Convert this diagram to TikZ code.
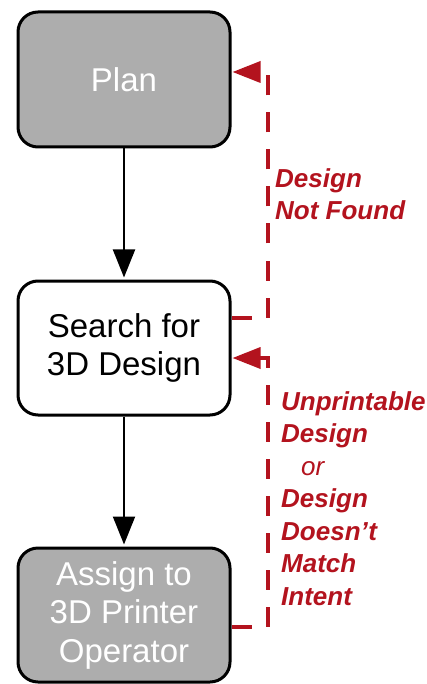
\documentclass[tikz,border=0pt]{standalone}
\usepackage{fontspec}
\setmainfont{Liberation Sans}
\usetikzlibrary{arrows.meta}
\definecolor{boxgray}{HTML}{ADADAD}
\definecolor{fbred}{HTML}{B3131E}
\begin{document}
\begin{tikzpicture}[x=1pt,y=-1pt,
  flowbox/.style={draw=black,line width=3pt,rounded corners=20pt,minimum width=212pt,
    align=center,inner sep=0pt,font=\fontsize{33}{38.5}\selectfont},
  graybox/.style={flowbox,fill=boxgray,text=white},
  whitebox/.style={flowbox,fill=white,text=black},
  flowarrow/.style={line width=2pt,-{Triangle[length=28pt,width=22pt]},shorten >=2pt},
  feedback/.style={draw=fbred,line width=3.5pt,dash pattern=on 20pt off 17pt,
    -{Triangle[length=28pt,width=21pt]},shorten >=1pt},
  fblabel/.style={text=fbred,font=\fontsize{26}{32.5}\selectfont\bfseries\itshape,
    align=left,inner sep=0pt,anchor=base west}]
\useasboundingbox (0,0) rectangle (427,684);
\node[graybox,minimum height=135pt] (plan) at (124,79.5) {Plan};
\node[whitebox,minimum height=134pt] (search) at (124,348) {Search for\\3D Design};
\node[graybox,minimum height=134pt] (assign) at (124,615) {Assign to\\3D Printer\\Operator};
\draw[flowarrow] (plan.south) -- (search.north);
\draw[flowarrow] (search.south) -- (assign.north);
\coordinate (c1) at (268,318);
\coordinate (c2) at (268,72);
\coordinate (c3) at (268,627);
\coordinate (c4) at (268,358);
\draw[feedback] (search.east |- c1) -- (c1) -- (c2) -- (plan.east |- c2);
\draw[feedback] (assign.east |- c3) -- (c3) -- (c4) -- (search.east |- c4);
\node[fblabel] (lab1) at (275,220) {Design\\Not Found};
\node[fblabel] (lab2) at (281,605) {Unprintable\\Design\\\hspace*{20pt}{\mdseries or}\\Design\\Doesn’t\\Match\\Intent};
\end{tikzpicture}
\end{document}
